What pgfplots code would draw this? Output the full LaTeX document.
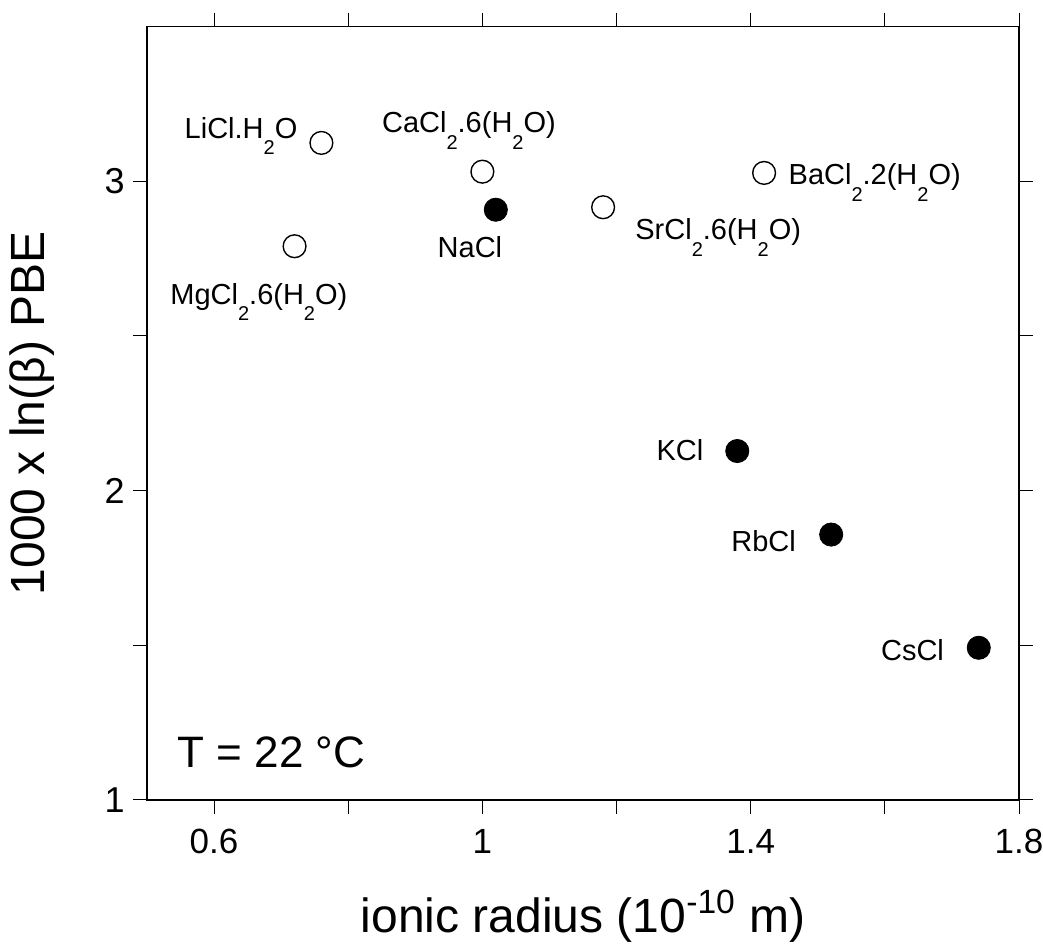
\documentclass[border=0pt]{standalone}
\usepackage{pgfplots}
\pgfplotsset{compat=1.18}
\usepackage{fontspec}
\setmainfont{Liberation Sans}
\newcommand{\sub}[1]{\raisebox{-8.3pt}{\fontsize{10}{10}\selectfont #1}}
\begin{document}
\begin{tikzpicture}
\useasboundingbox (-73.5pt,-75.5pt) rectangle (448pt,400pt);
\begin{axis}[
  at={(0,0)}, anchor=south west,
  scale only axis, width=436pt, height=386.7pt,
  xmin=0.5, xmax=1.8, ymin=1, ymax=3.5,
  xtick={0.6,1,1.4,1.8}, minor xtick={0.8,1.2,1.6},
  ytick={1,2,3}, minor ytick={1.5,2.5},
  tick align=outside, major tick length=7pt, minor tick length=7pt,
  tick style={black, line width=0.5pt},
  axis line style={line width=0.6pt},
  /pgf/number format/assume math mode=true,
  xticklabel style={font=\fontsize{17.5}{17.5}\selectfont, inner sep=0pt},
  yticklabel style={font=\fontsize{18}{18}\selectfont, inner sep=0pt},
  xticklabel shift=7.5pt, yticklabel shift=4pt,
  xlabel={ionic radius (10\textsuperscript{-10} m)},
  ylabel={1000 x ln(β) PBE},
  xlabel style={font=\fontsize{24}{24}\selectfont, at={(axis description cs:0.5,-0.1707)}, anchor=base, inner sep=0pt},
  ylabel style={font=\fontsize{24}{24}\selectfont, at={(axis description cs:-0.1171,0.5)}, anchor=base, inner sep=0pt},
  clip=false,
]
\addplot[only marks, mark=*, mark size=5.7pt, mark options={draw=black, fill=white, line width=0.7pt}]
  coordinates {(0.76,3.124) (1.00,3.031) (1.18,2.916) (1.42,3.027) (0.72,2.790)};
\addplot[only marks, mark=*, mark size=5.8pt, mark options={draw=black, fill=black}]
  coordinates {(1.02,2.908) (1.38,2.128) (1.52,1.858) (1.74,1.492)};
\begin{scope}[every node/.style={font=\fontsize{14.5}{14.5}\selectfont, inner sep=0pt}]
\node[anchor=base west] at (axis cs:0.5556,3.139) {LiCl.H\sub{2}O};
\node[anchor=base west] at (axis cs:0.8499,3.157) {CaCl\sub{2}.6(H\sub{2}O)};
\node[anchor=base west] at (axis cs:0.9328,2.753) {NaCl};
\node[anchor=base west] at (axis cs:0.5343,2.603) {MgCl\sub{2}.6(H\sub{2}O)};
\node[anchor=base west] at (axis cs:1.2275,2.811) {SrCl\sub{2}.6(H\sub{2}O)};
\node[anchor=base west] at (axis cs:1.456,2.988) {BaCl\sub{2}.2(H\sub{2}O)};
\node[anchor=base east] at (axis cs:1.330,2.097) {KCl};
\node[anchor=base west] at (axis cs:1.3706,1.803) {RbCl};
\node[anchor=base west] at (axis cs:1.5938,1.450) {CsCl};
\end{scope}
\node[anchor=base west, inner sep=0pt, font=\fontsize{22}{22}\selectfont] at (axis cs:0.5452,1.106) {T = 22 °C};
\end{axis}
\end{tikzpicture}
\end{document}
